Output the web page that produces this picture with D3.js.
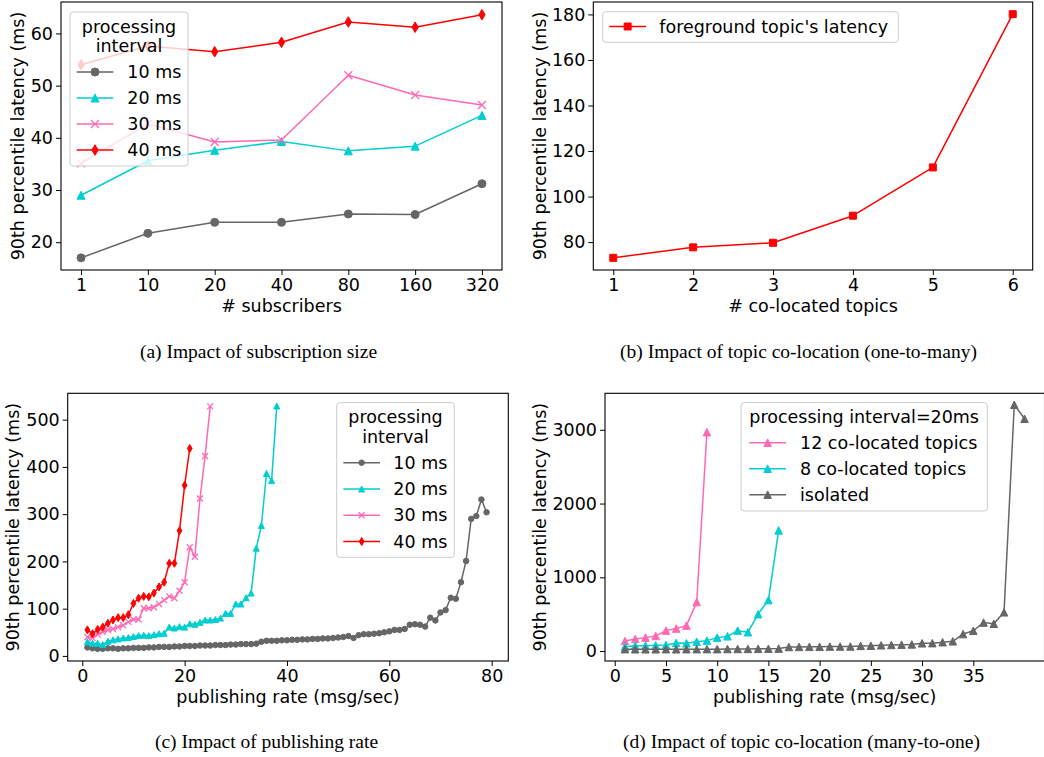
<!DOCTYPE html>
<html>
<head>
<meta charset="utf-8">
<script src="https://cdn.jsdelivr.net/npm/d3@7"></script>
<style>
  body { margin: 0; background: #ffffff; }
  svg text { font-family: "DejaVu Sans", sans-serif; fill: #000; }
  svg text.caption { font-family: "Liberation Serif", "Times New Roman", serif; }
</style>
</head>
<body>
<svg id="fig" width="1044" height="757"></svg>
<script>
// ---------- (a) subscription size ----------
const subscriberCounts = ['1', '10', '20', '40', '80', '160', '320'];
const latSubs10ms = [17.0, 21.7, 23.8, 23.8, 25.4, 25.3, 31.2];
const latSubs20ms = [29.0, 35.6, 37.6, 39.3, 37.5, 38.4, 44.3];
const latSubs30ms = [35.1, 42.7, 39.2, 39.6, 52.0, 48.2, 46.3];
const latSubs40ms = [54.0, 57.6, 56.5, 58.3, 62.2, 61.2, 63.6];
const intervalLabels = ['10 ms', '20 ms', '30 ms', '40 ms'];
const subsYTicks = [20, 30, 40, 50, 60];

// ---------- (b) topic co-location, one-to-many ----------
const colocatedTopics = [1, 2, 3, 4, 5, 6];
const foregroundLatency = [73.1, 77.7, 79.7, 91.6, 112.8, 180.1];
const colocYTicks = [80, 100, 120, 140, 160, 180];

// ---------- (c) publishing rate ----------
const publishingRates = [1, 2, 3, 4, 5, 6, 7, 8, 9, 10, 11, 12, 13, 14, 15, 16, 17, 18, 19, 20,
  21, 22, 23, 24, 25, 26, 27, 28, 29, 30, 31, 32, 33, 34, 35, 36, 37, 38, 39, 40,
  41, 42, 43, 44, 45, 46, 47, 48, 49, 50, 51, 52, 53, 54, 55, 56, 57, 58, 59, 60,
  61, 62, 63, 64, 65, 66, 67, 68, 69, 70, 71, 72, 73, 74, 75, 76, 77, 78, 79];
const latRate10ms = [18, 16, 15, 15, 16, 16, 15, 16, 16, 17, 17, 17, 18, 18, 19, 19, 19, 20, 20, 21,
  21, 21, 22, 22, 22, 23, 23, 23, 24, 24, 25, 25, 25, 26, 30, 32, 32, 32, 33, 33,
  34, 34, 35, 35, 36, 36, 37, 37, 38, 39, 40, 42, 38, 44, 46, 46, 47, 48, 50, 52,
  55, 55, 57, 66, 67, 66, 62, 81, 75, 92, 97, 123, 121, 156, 201, 290, 296, 331, 304];
const latRate20ms = [30, 27, 27, 24, 31, 34, 36, 38, 39, 41, 43, 44, 43, 45, 47, 48, 61, 59, 62, 61,
  68, 67, 71, 76, 76, 77, 80, 90, 90, 110, 110, 123, 133, 228, 276, 386, 371, 529];
const latRate30ms = [40, 38, 45, 51, 55, 57, 61, 65, 72, 77, 77, 101, 101, 103, 110, 118, 126, 122, 138, 156,
  230, 210, 333, 423, 528];
const latRate40ms = [55, 47, 56, 61, 69, 76, 81, 81, 87, 111, 122, 126, 125, 133, 146, 156, 196, 196, 265, 361,
  439];
const rateXTicks = [0, 20, 40, 60, 80];
const rateYTicks = [0, 100, 200, 300, 400, 500];

// ---------- (d) topic co-location, many-to-one ----------
const colocRates = [1, 2, 3, 4, 5, 6, 7, 8, 9, 10, 11, 12, 13, 14, 15, 16, 17, 18, 19, 20,
  21, 22, 23, 24, 25, 26, 27, 28, 29, 30, 31, 32, 33, 34, 35, 36, 37, 38, 39, 40];
const latColoc12 = [136, 164, 182, 205, 277, 305, 345, 664, 2968];
const latColoc8 = [59, 73, 73, 77, 82, 109, 105, 127, 141, 182, 200, 277, 255, 500, 691, 1636];
const latIsolated = [25, 24, 24, 24, 25, 24, 25, 25, 26, 26, 27, 28, 29, 30, 31, 33, 55, 56, 57, 57,
  60, 61, 62, 70, 72, 78, 83, 86, 90, 105, 107, 120, 132, 230, 275, 386, 370, 525, 3340, 3150];
const colocLabels = ['12 co-located topics', '8 co-located topics', 'isolated'];
const manyXTicks = [0, 5, 10, 15, 20, 25, 30, 35];
const manyYTicks = [0, 1000, 2000, 3000];

// ---------- styling ----------
const GRAY = '#666666', CYAN = '#00ced1', PINK = '#ff69b4', RED = '#ff0000';
const FONT = 17.5;
const svg = d3.select('#fig');

function markerPath(shape, s) {
  const h = s / 2;
  switch (shape) {
    case 'o': { const p = d3.path(); p.arc(0, 0, h, 0, 2 * Math.PI); p.closePath(); return p.toString(); }
    case '^': return `M0,${-h}L${h},${h}L${-h},${h}Z`;
    case 'x': return `M${-h},${-h}L${h},${h}M${-h},${h}L${h},${-h}`;
    case 'd': return `M0,${-h}L${0.6 * h},0L0,${h}L${-0.6 * h},0Z`;
    case 's': return `M${-h},${-h}H${h}V${h}H${-h}Z`;
  }
}

function drawMarker(g, shape, size, color, x, y) {
  g.append('path')
    .attr('d', markerPath(shape, size))
    .attr('transform', `translate(${x},${y})`)
    .attr('fill', shape === 'x' ? 'none' : color)
    .attr('stroke', color)
    .attr('stroke-width', shape === 'x' ? 1.3 : 1);
}

function drawSeries(g, xs, ys, xScale, yScale, color, shape, size) {
  const pts = ys.map((v, i) => [xScale(xs[i]), yScale(v)]);
  g.append('path')
    .attr('d', d3.line()(pts))
    .attr('fill', 'none')
    .attr('stroke', color)
    .attr('stroke-width', 1.5)
    .attr('stroke-linejoin', 'round');
  const mg = g.append('g');
  pts.forEach(p => drawMarker(mg, shape, size, color, p[0], p[1]));
}

function drawAxes(box, xScale, yScale, xTicks, yTicks, xFormat, xLabel, yLabel, yLabelX, xLabelY) {
  const gx = svg.append('g').attr('transform', `translate(0,${box.bottom})`)
    .call(d3.axisBottom(xScale).tickValues(xTicks).tickFormat(xFormat || d3.format('d'))
      .tickSize(5).tickPadding(3.5).tickSizeOuter(0));
  const gy = svg.append('g').attr('transform', `translate(${box.left},0)`)
    .call(d3.axisLeft(yScale).tickValues(yTicks).tickFormat(d3.format('d'))
      .tickSize(5).tickPadding(3).tickSizeOuter(0));
  [gx, gy].forEach(a => {
    a.select('.domain').remove();
    a.selectAll('.tick line').attr('stroke', '#000').attr('stroke-width', 1);
    a.selectAll('.tick text').attr('font-size', FONT).attr('font-family', '"DejaVu Sans", sans-serif').attr('fill', '#000');
  });
  svg.append('text')
    .attr('x', (box.left + box.right) / 2).attr('y', xLabelY).attr('dy', '0.35em')
    .attr('text-anchor', 'middle').attr('font-size', FONT).text(xLabel);
  const cy = (box.top + box.bottom) / 2;
  svg.append('text')
    .attr('transform', `translate(${yLabelX},${cy}) rotate(-90)`).attr('dy', '0.35em')
    .attr('text-anchor', 'middle').attr('font-size', FONT).text(yLabel);
}

function drawFrame(box) {
  svg.append('rect')
    .attr('x', box.left).attr('y', box.top)
    .attr('width', box.right - box.left).attr('height', box.bottom - box.top)
    .attr('fill', 'none').attr('stroke', '#000').attr('stroke-width', 1.1);
}

function drawLegend(L) {
  const g = svg.append('g');
  g.append('rect')
    .attr('x', L.x0).attr('y', L.y0).attr('width', L.x1 - L.x0).attr('height', L.y1 - L.y0)
    .attr('rx', 3).attr('fill', '#ffffff').attr('fill-opacity', 0.8)
    .attr('stroke', '#cccccc').attr('stroke-width', 1);
  (L.titles || []).forEach((t, i) => {
    g.append('text').attr('x', (L.x0 + L.x1) / 2).attr('y', L.titleYs[i]).attr('dy', '0.35em')
      .attr('text-anchor', 'middle').attr('font-size', FONT).text(t);
  });
  L.entries.forEach((e, i) => {
    const y = L.rowYs[i];
    g.append('line').attr('x1', L.lineX0).attr('x2', L.lineX1).attr('y1', y).attr('y2', y)
      .attr('stroke', e.color).attr('stroke-width', 1.5);
    drawMarker(g, e.shape, e.size, e.color, (L.lineX0 + L.lineX1) / 2, y);
    g.append('text').attr('x', L.textX).attr('y', y).attr('dy', '0.35em')
      .attr('font-size', FONT).text(e.label);
  });
}

const Y_LABEL = '90th percentile latency (ms)';

// ===== Panel (a) =====
{
  const box = { left: 61, right: 502, top: 2, bottom: 270 };
  const x = d3.scalePoint().domain(subscriberCounts).range([box.left, box.right]).padding(0.3);
  const y = d3.scaleLinear().domain([14.67, 66.03]).range([box.bottom, box.top]);
  const g = svg.append('g');
  const series = [
    [latSubs10ms, GRAY, 'o', 8], [latSubs20ms, CYAN, '^', 8],
    [latSubs30ms, PINK, 'x', 8], [latSubs40ms, RED, 'd', 10.5]];
  series.forEach(s => drawSeries(g, subscriberCounts, s[0], x, y, s[1], s[2], s[3]));
  drawAxes(box, x, y, subscriberCounts, subsYTicks, d => d, '# subscribers', Y_LABEL, 18, 306);
  drawFrame(box);
  drawLegend({
    x0: 70, x1: 188, y0: 12, y1: 166,
    titles: ['processing', 'interval'], titleYs: [26.7, 45.7],
    rowYs: [72, 98, 124, 150], lineX0: 76.7, lineX1: 113.3, textX: 127.3,
    entries: series.map((s, i) => ({ label: intervalLabels[i], color: s[1], shape: s[2], size: s[3] }))
  });
}

// ===== Panel (b) =====
{
  const box = { left: 593.3, right: 1032.7, top: 2, bottom: 270 };
  const x = d3.scaleLinear().domain([0.75, 6.25]).range([box.left, box.right]);
  const y = d3.scaleLinear().domain([67.75, 185.45]).range([box.bottom, box.top]);
  const g = svg.append('g');
  drawSeries(g, colocatedTopics, foregroundLatency, x, y, RED, 's', 7);
  drawAxes(box, x, y, colocatedTopics, colocYTicks, null, '# co-located topics', Y_LABEL, 540, 306);
  drawFrame(box);
  drawLegend({
    x0: 602.7, x1: 898.3, y0: 11.7, y1: 42.3,
    rowYs: [26.5], lineX0: 609.3, lineX1: 646, textX: 659.3,
    entries: [{ label: "foreground topic's latency", color: RED, shape: 's', size: 7 }]
  });
}

// ===== Panel (c) =====
{
  const box = { left: 67.7, right: 508.3, top: 393.3, bottom: 661 };
  const x = d3.scaleLinear().domain([-2.85, 83.25]).range([box.left, box.right]);
  const y = d3.scaleLinear().domain([-10.75, 555.75]).range([box.bottom, box.top]);
  const g = svg.append('g');
  const series = [
    [latRate10ms, GRAY, 'o', 5.5], [latRate20ms, CYAN, '^', 6],
    [latRate30ms, PINK, 'x', 6], [latRate40ms, RED, 'd', 8]];
  series.forEach(s => drawSeries(g, publishingRates, s[0], x, y, s[1], s[2], s[3]));
  drawAxes(box, x, y, rateXTicks, rateYTicks, null, 'publishing rate (msg/sec)', Y_LABEL, 13, 696.7);
  drawFrame(box);
  drawLegend({
    x0: 336.7, x1: 454.3, y0: 402.7, y1: 557.3,
    titles: ['processing', 'interval'], titleYs: [417, 436.7],
    rowYs: [462.7, 489, 515.3, 541.5], lineX0: 343.3, lineX1: 380, textX: 393.3,
    entries: series.map((s, i) => ({ label: intervalLabels[i], color: s[1], shape: s[2], size: s[3] }))
  });
}

// ===== Panel (d) =====
{
  const box = { left: 605, right: 1044.5, top: 393.3, bottom: 661 };
  const x = d3.scaleLinear().domain([-0.95, 41.95]).range([box.left, box.right]);
  const y = d3.scaleLinear().domain([-135, 3495]).range([box.bottom, box.top]);
  const g = svg.append('g');
  const series = [[latColoc12, PINK], [latColoc8, CYAN], [latIsolated, GRAY]];
  series.forEach(s => drawSeries(g, colocRates, s[0], x, y, s[1], '^', 7.5));
  drawAxes(box, x, y, manyXTicks, manyYTicks, null, 'publishing rate (msg/sec)', Y_LABEL, 540, 696.7);
  drawFrame(box);
  drawLegend({
    x0: 741, x1: 987.3, y0: 402.7, y1: 511,
    titles: ['processing interval=20ms'], titleYs: [416.7],
    rowYs: [442.7, 468.7, 494.7], lineX0: 749.3, lineX1: 786, textX: 800,
    entries: series.map((s, i) => ({ label: colocLabels[i], color: s[1], shape: '^', size: 7.5 }))
  });
}

// ---------- sub-figure captions ----------
const captions = [
  ['(a) Impact of subscription size', 258.5, 351],
  ['(b) Impact of topic co-location (one-to-many)', 798.5, 351],
  ['(c) Impact of publishing rate', 266.5, 741],
  ['(d) Impact of topic co-location (many-to-one)', 801.5, 741]];
captions.forEach(c => {
  svg.append('text').attr('class', 'caption')
    .attr('x', c[1]).attr('y', c[2]).attr('dy', '0.35em')
    .attr('text-anchor', 'middle').attr('font-size', 19.5).text(c[0]);
});
</script>
</body>
</html>
